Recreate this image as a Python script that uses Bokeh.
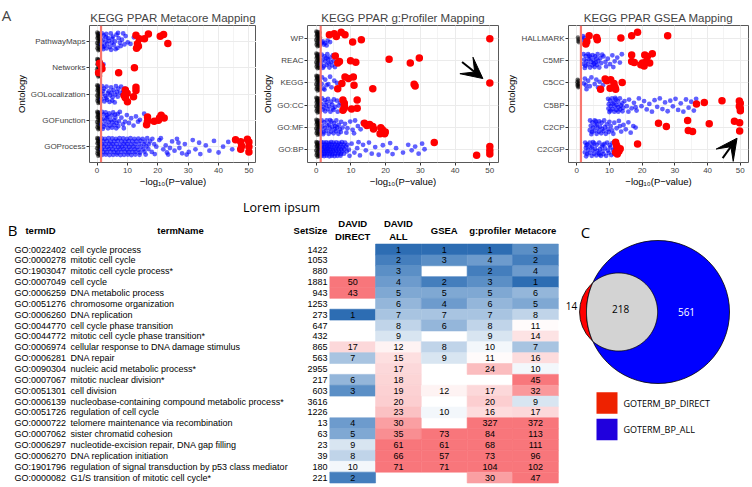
import math
import numpy as np
from bokeh.plotting import figure
from bokeh.models import (Range1d, Span, FixedTicker, SingleIntervalTicker,
                          Arrow, VeeHead, ColumnDataSource, LinearColorMapper)
from bokeh.layouts import row, column
from bokeh.embed import file_html
from bokeh.resources import INLINE
from bokeh.core.properties import value
from bokeh.transform import transform

FONT = "Liberation Sans"
THRESH = 0.05  # p-value threshold line

# ---------------- Panel A data: (-log10 p, vertical jitter in rows; + = lower) -------------
BLK_DENSE = [(0.05, -0.33), (0.55, -0.31), (1.0, -0.27), (0.3, -0.22), (0.8, -0.19), (0.1, -0.13),
             (0.6, -0.1), (1.1, -0.06), (0.35, -0.02), (0.85, 0.02), (0.0, 0.06), (0.5, 0.1),
             (1.05, 0.13), (0.25, 0.17), (0.75, 0.21), (0.1, 0.26), (0.6, 0.29), (1.0, 0.32),
             (0.4, 0.34), (0.2, -0.28), (0.9, -0.02), (0.45, -0.16)]

META_CATS = ["GOProcess", "GOFunction", "GOLocalization", "Networks", "PathwayMaps"]
META_BLACK = {c: BLK_DENSE for c in META_CATS}
META_BLUE = {
    "PathwayMaps": [(1.6, -0.3), (2.2, -0.22), (3.0, -0.28), (3.6, -0.12), (4.5, -0.3), (5.2, -0.18),
                    (6.4, -0.25), (7.1, -0.12), (8.6, -0.3), (9.4, -0.2), (1.8, -0.05), (2.7, 0.02),
                    (3.9, -0.02), (4.8, 0.06), (5.9, 0.0), (7.5, 0.05), (8.2, -0.06), (10.1, 0.04),
                    (1.5, 0.12), (2.4, 0.18), (3.3, 0.1), (4.2, 0.22), (5.5, 0.14), (6.7, 0.25),
                    (7.8, 0.18), (9.0, 0.12), (2.0, 0.3), (3.1, 0.27), (4.6, 0.32), (6.1, 0.3),
                    (2.9, -0.15), (1.9, 0.22), (5.0, -0.1), (12.1, -0.15), (11.0, 0.1), (6.9, -0.32)],
    "Networks": [(1.6, 0.06), (2.1, -0.12)],
    "GOLocalization": [(1.6, -0.3), (2.3, -0.2), (3.1, -0.28), (3.8, -0.1), (4.6, -0.25), (5.4, -0.15),
                       (6.2, -0.3), (7.0, -0.2), (7.9, -0.28), (8.6, -0.12), (1.8, 0.0), (2.7, 0.08),
                       (3.5, -0.02), (4.3, 0.05), (5.1, 0.12), (6.0, 0.02), (6.8, 0.1), (7.6, -0.04),
                       (1.5, 0.2), (2.4, 0.28), (3.3, 0.22), (4.1, 0.3), (5.0, 0.25), (5.8, 0.32),
                       (2.0, -0.12), (3.0, 0.15), (8.3, 0.04), (9.1, -0.2), (4.8, -0.05), (6.5, -0.08)],
    "GOFunction": [(1.6, -0.32), (2.1, -0.22), (2.8, -0.3), (3.4, -0.12), (4.0, -0.26), (4.7, -0.18),
                   (5.3, -0.3), (6.0, -0.1), (6.8, -0.24), (7.5, -0.32), (1.8, -0.05), (2.5, 0.02),
                   (3.1, -0.08), (3.8, 0.06), (4.4, -0.02), (5.0, 0.08), (5.7, 0.0), (6.4, 0.1),
                   (7.2, 0.04), (8.0, -0.1), (1.5, 0.15), (2.2, 0.24), (2.9, 0.16), (3.6, 0.3),
                   (4.2, 0.2), (4.9, 0.28), (5.6, 0.18), (6.3, 0.3), (7.0, 0.22), (8.5, 0.15),
                   (9.2, 0.05), (9.8, -0.2), (10.5, 0.1), (11.2, -0.08), (12.0, 0.2), (12.8, -0.15),
                   (13.5, 0.05), (14.1, -0.02), (15.5, -0.25), (8.8, 0.3), (1.9, 0.32), (3.2, -0.2),
                   (5.9, -0.22)],
    "GOProcess": [(1.5, -0.31), (2.6, -0.3), (3.8, -0.32), (5.0, -0.31), (6.2, -0.3), (7.4, -0.32),
                  (8.6, -0.31), (9.8, -0.3), (11.0, -0.32), (12.3, -0.3), (13.6, -0.31), (15.0, -0.3),
                  (16.5, -0.32), (18.2, -0.3),
                  (2.0, -0.2), (3.2, -0.21), (4.4, -0.19), (5.6, -0.2), (6.8, -0.22), (8.0, -0.2),
                  (9.2, -0.19), (10.4, -0.21), (11.6, -0.2), (12.9, -0.2), (14.3, -0.22), (15.8, -0.19),
                  (17.4, -0.2),
                  (1.6, -0.1), (2.8, -0.09), (4.0, -0.11), (5.2, -0.1), (6.4, -0.1), (7.6, -0.08),
                  (8.8, -0.11), (10.0, -0.1), (11.2, -0.09), (12.5, -0.1), (13.9, -0.11), (15.4, -0.1),
                  (17.0, -0.09), (18.8, -0.1),
                  (2.2, 0.0), (3.4, 0.01), (4.6, -0.01), (5.8, 0.0), (7.0, 0.02), (8.2, 0.0),
                  (9.4, -0.01), (10.6, 0.01), (11.9, 0.0), (13.2, 0.02), (14.6, 0.0), (16.2, -0.01),
                  (19.5, 0.0),
                  (1.5, 0.1), (2.7, 0.11), (3.9, 0.09), (5.1, 0.1), (6.3, 0.12), (7.5, 0.1),
                  (8.7, 0.09), (9.9, 0.11), (11.1, 0.1), (12.4, 0.1), (13.7, 0.12), (15.2, 0.1),
                  (16.9, 0.09),
                  (1.9, 0.2), (3.1, 0.21), (4.3, 0.19), (5.5, 0.2), (6.7, 0.22), (7.9, 0.2),
                  (9.1, 0.19), (10.3, 0.21), (11.5, 0.2), (12.7, 0.2), (14.1, 0.22), (15.6, 0.19),
                  (18.0, 0.2),
                  (1.7, 0.31), (2.9, 0.3), (4.1, 0.32), (5.3, 0.31), (6.5, 0.3), (7.7, 0.32),
                  (8.9, 0.31), (10.1, 0.3), (11.3, 0.32), (12.6, 0.3), (14.0, 0.31), (16.0, 0.3),
                  (20.5, -0.25), (21.8, 0.1), (22.6, -0.05), (23.4, 0.3), (24.7, -0.2), (25.5, 0.15),
                  (26.3, -0.3), (27.1, 0.05), (28.0, 0.25), (28.9, -0.1), (30.2, 0.2), (31.5, -0.25),
                  (32.4, 0.1), (33.6, -0.15), (34.0, 0.28), (35.8, -0.05), (37.0, 0.15), (38.5, -0.22),
                  (40.0, 0.22), (41.5, 0.0), (43.2, -0.18), (44.5, 0.1), (19.0, 0.28), (21.0, -0.32),
                  (24.0, 0.05), (29.5, 0.3), (26.8, -0.15), (23.0, 0.22)],
}
META_RED = {
    "PathwayMaps": [(12.8, -0.23), (13.9, -0.1), (15.6, -0.1), (16.9, -0.28), (20.8, -0.19),
                    (21.9, -0.26), (23.3, 0.08), (13.3, 0.09), (13.0, 0.26), (13.6, 0.19)],
    "Networks": [(0.8, -0.17), (1.4, -0.06), (1.6, 0.04), (0.5, 0.19), (7.1, 0.19), (12.3, 0.0)],
    "GOLocalization": [(9.3, -0.15), (9.9, -0.03), (12.8, -0.26), (12.8, -0.13), (8.9, 0.06),
                       (9.3, 0.14), (10.0, 0.29), (12.0, 0.1)],
    "GOFunction": [(16.6, -0.13), (16.6, 0.03), (16.3, 0.17), (18.8, 0.03), (20.2, 0.0),
                   (21.1, -0.19), (20.6, -0.1), (22.1, -0.09)],
    "GOProcess": [(45.6, -0.26), (47.3, -0.19), (49.5, -0.28), (50.0, -0.18), (47.6, -0.03),
                  (50.0, 0.0), (50.0, 0.2), (47.3, 0.1)],
}

GPROF_CATS = ["GO:BP", "GO:MF", "GO:CC", "KEGG", "REAC", "WP"]
GPROF_BLACK = {c: BLK_DENSE for c in GPROF_CATS}
GPROF_BLUE = {
    "WP": [(1.9, 0.12), (2.6, 0.2), (3.3, 0.08), (2.2, 0.26), (3.0, 0.3), (1.6, 0.18), (4.0, 0.15)],
    "REAC": [(1.6, -0.28), (2.4, -0.2), (3.2, -0.3), (4.0, -0.15), (4.8, -0.25), (1.8, -0.05),
             (2.6, 0.02), (3.4, -0.08), (4.2, 0.06), (5.0, 0.0), (1.5, 0.15), (2.2, 0.25),
             (3.0, 0.18), (3.8, 0.3), (4.6, 0.2), (5.4, 0.28), (2.9, -0.12), (1.9, 0.32), (3.6, 0.1)],
    "KEGG": [(1.7, -0.25), (2.6, -0.15), (3.5, 0.05), (4.4, 0.2), (5.2, -0.1), (2.1, 0.25),
             (3.0, 0.1), (1.6, 0.05), (2.4, 0.3), (6.0, 0.0), (4.0, -0.28)],
    "GO:CC": [(1.7, -0.3), (2.5, -0.22), (3.4, -0.28), (4.2, -0.15), (5.1, -0.25), (6.0, -0.2),
              (1.6, -0.05), (2.8, 0.0), (3.7, 0.06), (4.6, -0.02), (5.5, 0.08), (6.5, 0.02),
              (1.9, 0.2), (2.6, 0.28), (3.3, 0.18), (4.1, 0.3), (5.0, 0.22), (6.2, 0.3),
              (7.0, -0.1), (3.0, -0.12), (4.8, 0.15), (2.2, 0.1)],
    "GO:MF": [(1.6, -0.3), (2.3, -0.22), (3.0, -0.31), (3.7, -0.12), (4.4, -0.26), (5.1, -0.18),
              (5.8, -0.3), (6.5, -0.1), (7.2, -0.24), (1.8, -0.04), (2.5, 0.03), (3.2, -0.08),
              (3.9, 0.06), (4.6, -0.01), (5.3, 0.09), (6.0, 0.0), (6.8, 0.1), (7.6, 0.02),
              (1.5, 0.15), (2.2, 0.24), (2.9, 0.16), (3.6, 0.3), (4.3, 0.2), (5.0, 0.28),
              (5.7, 0.18), (6.4, 0.3), (7.1, 0.22), (8.3, -0.15), (9.0, 0.05), (9.8, -0.25),
              (10.5, 0.12), (11.2, -0.3), (12.0, -0.05), (12.8, 0.1), (13.4, -0.2), (8.7, 0.25),
              (10.9, 0.28), (2.0, 0.32), (4.0, -0.32), (5.5, -0.05)],
    "GO:BP": [(1.5, -0.32), (2.2, -0.3), (2.9, -0.31), (3.6, -0.29), (4.3, -0.32), (5.0, -0.3),
              (5.8, -0.31), (6.6, -0.29), (7.4, -0.32), (8.3, -0.3), (1.8, -0.2), (2.5, -0.21),
              (3.2, -0.19), (3.9, -0.22), (4.6, -0.2), (5.4, -0.21), (6.2, -0.19), (7.0, -0.22),
              (7.9, -0.2), (9.0, -0.2), (1.6, -0.1), (2.3, -0.09), (3.0, -0.11), (3.7, -0.1),
              (4.4, -0.08), (5.1, -0.1), (5.9, -0.11), (6.7, -0.09), (7.6, -0.1), (8.6, -0.11),
              (1.9, 0.0), (2.6, 0.01), (3.3, -0.01), (4.0, 0.0), (4.8, 0.02), (5.6, 0.0),
              (6.4, -0.01), (7.2, 0.01), (8.1, 0.0), (9.4, 0.02), (1.5, 0.1), (2.2, 0.11),
              (2.9, 0.09), (3.6, 0.1), (4.3, 0.12), (5.0, 0.1), (5.8, 0.09), (6.6, 0.11),
              (7.5, 0.1), (8.8, 0.1), (1.8, 0.2), (2.5, 0.21), (3.2, 0.19), (3.9, 0.2),
              (4.7, 0.22), (5.5, 0.2), (6.3, 0.19), (7.1, 0.21), (8.0, 0.2), (1.6, 0.3),
              (2.3, 0.31), (3.0, 0.29), (3.8, 0.32), (4.5, 0.3), (5.3, 0.31), (6.1, 0.3),
              (7.0, 0.29), (10.2, -0.25), (11.0, 0.15), (11.8, -0.05), (12.6, 0.28), (13.5, -0.2),
              (14.3, 0.05), (15.2, -0.3), (16.0, 0.2), (17.0, -0.1), (18.0, 0.25), (19.2, -0.18),
              (20.5, 0.1), (21.3, -0.28), (22.0, 0.22), (23.0, -0.05), (25.0, 0.15), (26.5, -0.2),
              (27.5, 0.05), (28.5, -0.12), (29.5, 0.2), (30.5, -0.25), (31.2, 0.0), (9.6, 0.3),
              (12.2, -0.32)],
}
GPROF_RED = {
    "WP": [(3.8, -0.18), (5.2, -0.23), (5.8, -0.1), (7.2, -0.3), (8.3, -0.18), (10.5, 0.15),
           (13.0, 0.05), (50.0, 0.0)],
    "REAC": [(5.5, -0.22), (6.2, 0.1), (6.7, 0.03), (9.9, -0.01), (11.4, 0.06), (21.0, -0.07),
             (27.1, 0.1), (29.7, -0.13)],
    "KEGG": [(8.3, -0.27), (9.3, -0.2), (10.7, -0.27), (7.4, 0.03), (6.2, 0.26), (10.9, 0.1),
             (16.3, 0.26), (28.2, 0.06), (28.5, 0.14), (50.0, 0.0)],
    "GO:CC": [(7.7, -0.23), (8.1, -0.08), (8.1, 0.04), (8.1, 0.15), (11.8, -0.23), (11.8, 0.15),
              (10.2, 0.18), (7.7, 0.23)],
    "GO:MF": [(13.9, -0.18), (14.6, -0.08), (16.3, -0.03), (15.4, -0.12), (16.5, 0.08),
              (18.6, 0.03), (19.1, 0.12), (18.4, 0.3), (19.9, 0.22), (19.7, 0.3)],
    "GO:BP": [(34.0, -0.3), (50.0, -0.12), (50.0, 0.06), (50.0, 0.22), (46.2, 0.27)],
}

GSEA_CATS = ["C2CGP", "C2CP", "C5BP", "C5CC", "C5MF", "HALLMARK"]
GSEA_BLACK = {
    "HALLMARK": [(0.6, 0.02), (0.5, 0.1), (0.7, 0.16), (0.4, -0.06)],
    "C5CC": [(0.3, -0.15), (0.6, -0.1), (0.2, -0.03), (0.7, 0.02), (0.4, 0.06), (0.25, 0.12),
             (0.65, 0.15), (0.5, 0.2)],
}
GSEA_BLUE = {
    "HALLMARK": [(1.9, -0.12), (2.3, -0.04), (2.0, 0.06)],
    "C5MF": [(2.1, -0.3), (2.8, -0.22), (3.5, -0.3), (4.2, -0.14), (4.9, -0.26), (5.6, -0.2),
             (6.4, -0.3), (7.2, -0.12), (2.3, -0.06), (3.0, 0.02), (3.7, -0.08), (4.4, 0.05),
             (5.1, -0.02), (5.8, 0.08), (6.6, 0.0), (7.5, 0.1), (2.0, 0.14), (2.7, 0.22),
             (3.4, 0.16), (4.1, 0.3), (4.8, 0.2), (5.5, 0.28), (6.2, 0.18), (6.9, 0.3),
             (2.5, 0.32), (3.9, -0.24), (5.3, 0.12), (8.2, -0.2), (8.8, 0.05), (9.5, -0.1),
             (10.2, 0.15), (10.9, -0.25), (11.6, 0.02), (12.4, -0.15), (13.2, 0.08), (13.8, -0.3),
             (9.0, 0.25), (11.2, 0.28), (7.8, -0.28), (6.0, -0.1)],
    "C5CC": [(2.5, -0.2), (3.5, -0.1), (4.5, -0.25), (6.0, -0.15), (7.0, -0.05), (2.8, 0.1),
             (4.0, 0.15), (5.5, 0.05), (3.0, 0.28), (6.5, 0.2), (8.0, 0.1), (9.0, -0.2), (2.2, 0.02)],
    "C5BP": [(9.6, -0.28), (10.2, -0.2), (10.8, -0.3), (11.4, -0.12), (12.0, -0.25), (12.6, -0.16),
             (13.2, -0.3), (13.9, -0.08), (9.8, -0.04), (10.4, 0.04), (11.0, -0.06), (11.6, 0.06),
             (12.2, 0.0), (12.8, 0.1), (13.5, 0.02), (14.2, 0.12), (9.7, 0.16), (10.3, 0.25),
             (10.9, 0.18), (11.5, 0.3), (12.1, 0.22), (12.7, 0.3), (13.3, 0.2), (14.0, 0.28),
             (10.0, 0.32), (11.8, -0.32), (14.6, -0.18), (15.3, 0.05), (16.0, -0.25), (16.8, 0.15),
             (17.5, -0.1), (18.3, 0.25), (19.0, -0.3), (19.8, 0.05), (20.6, -0.18), (21.4, 0.2),
             (22.2, -0.05), (23.0, 0.3), (23.8, -0.22), (24.6, 0.08), (25.4, -0.3), (26.2, 0.18),
             (27.0, -0.12), (27.8, 0.28), (28.6, -0.2), (29.4, 0.06), (30.2, -0.28), (31.0, 0.22),
             (31.8, -0.08), (32.6, 0.3), (33.4, -0.25), (34.2, 0.12), (35.0, -0.15), (35.8, 0.25),
             (36.5, -0.28), (15.8, 0.3), (18.0, 0.1)],
    "C2CP": [(4.1, -0.3), (4.8, -0.22), (5.5, -0.3), (6.2, -0.14), (6.9, -0.26), (7.6, -0.2),
             (8.4, -0.3), (9.2, -0.12), (10.0, -0.24), (4.3, -0.06), (5.0, 0.02), (5.7, -0.08),
             (6.4, 0.05), (7.1, -0.02), (7.8, 0.08), (8.6, 0.0), (9.5, 0.1), (10.4, -0.04),
             (4.0, 0.14), (4.7, 0.22), (5.4, 0.16), (6.1, 0.3), (6.8, 0.2), (7.5, 0.28),
             (8.2, 0.18), (8.9, 0.3), (9.8, 0.22), (4.5, 0.32), (10.8, 0.15), (11.5, -0.2),
             (12.2, 0.05), (12.9, -0.28), (13.6, 0.2), (14.3, -0.1), (15.0, 0.1), (15.8, -0.22),
             (16.5, 0.25), (17.3, -0.05), (18.0, 0.02), (11.2, 0.3), (13.2, -0.05), (5.9, -0.26)],
    "C2CGP": [(2.6, -0.3), (3.3, -0.22), (4.0, -0.3), (4.7, -0.14), (5.4, -0.26), (6.1, -0.2),
              (6.9, -0.3), (7.7, -0.12), (8.5, -0.24), (9.3, -0.3), (10.1, -0.18), (10.9, -0.28),
              (2.8, -0.06), (3.5, 0.02), (4.2, -0.08), (4.9, 0.05), (5.6, -0.02), (6.3, 0.08),
              (7.1, 0.0), (7.9, 0.1), (8.7, -0.04), (9.5, 0.06), (10.3, -0.08), (11.1, 0.04),
              (2.5, 0.14), (3.2, 0.22), (3.9, 0.16), (4.6, 0.3), (5.3, 0.2), (6.0, 0.28),
              (6.7, 0.18), (7.4, 0.3), (8.2, 0.22), (9.0, 0.3), (9.8, 0.16), (10.6, 0.26),
              (11.4, 0.2), (12.0, -0.22), (11.7, 0.0), (2.9, 0.32), (3.0, -0.18), (5.0, -0.32),
              (7.0, 0.24), (8.0, -0.2)],
}
GSEA_RED = {
    "HALLMARK": [(3.8, -0.14), (3.1, 0.12), (2.8, 0.24), (6.1, -0.06), (6.3, 0.05), (13.5, -0.03),
                 (16.8, -0.14), (18.6, -0.29), (27.8, -0.14)],
    "C5MF": [(16.8, -0.27), (16.8, 0.03), (17.6, 0.08), (20.8, -0.27), (21.6, -0.2), (23.1, -0.32),
             (19.6, 0.18), (20.1, 0.1), (20.6, 0.23), (21.3, 0.03), (22.3, 0.1)],
    "C5CC": [(8.7, -0.18), (9.2, -0.1), (10.4, -0.14), (11.4, 0.02), (13.9, -0.02), (7.3, 0.29),
             (10.2, 0.24), (11.7, 0.2), (11.9, 0.29)],
    "C5BP": [(36.6, -0.05), (39.0, -0.11), (44.4, -0.2), (49.7, -0.18), (50.0, -0.08),
             (49.7, 0.05), (50.0, 0.15), (50.0, 0.26)],
    "C2CP": [(25.0, -0.18), (27.4, -0.03), (33.9, -0.3), (34.1, 0.15), (35.4, 0.2), (40.5, -0.15),
             (48.2, -0.27), (49.8, -0.2), (49.8, 0.18)],
    "C2CGP": [(11.9, -0.32), (12.2, -0.17), (12.4, -0.09), (12.7, 0.03), (12.9, 0.09),
              (13.3, -0.02), (12.4, 0.21), (18.6, -0.24), (11.9, 0.14)],
}

# ---------------- Panel B data ----------------
TERM_IDS = ["GO:0022402", "GO:0000278", "GO:1903047", "GO:0007049", "GO:0006259", "GO:0051276",
            "GO:0006260", "GO:0044770", "GO:0044772", "GO:0006974", "GO:0006281", "GO:0090304",
            "GO:0007067", "GO:0051301", "GO:0006139", "GO:0051726", "GO:0000722", "GO:0007062",
            "GO:0006297", "GO:0006270", "GO:1901796", "GO:0000082"]
TERM_NAMES = ["cell cycle process", "mitotic cell cycle", "mitotic cell cycle process*", "cell cycle",
              "DNA metabolic process", "chromosome organization", "DNA replication",
              "cell cycle phase transition", "mitotic cell cycle phase transition*",
              "cellular response to DNA damage stimulus", "DNA repair",
              "nucleic acid metabolic process*", "mitotic nuclear division*", "cell division",
              "nucleobase-containing compound metabolic process*", "regulation of cell cycle",
              "telomere maintenance via recombination", "sister chromatid cohesion",
              "nucleotide-excision repair, DNA gap filling", "DNA replication initiation",
              "regulation of signal transduction by p53 class mediator",
              "G1/S transition of mitotic cell cycle*"]
SET_SIZE = [1422, 1053, 880, 1881, 943, 1253, 273, 647, 432, 865, 563, 2955, 217, 603, 3616, 1226,
            13, 63, 23, 39, 180, 221]
DAVID_DIRECT = [None, None, None, 50, 43, None, 1, None, None, 17, 7, None, 6, 3, None, None,
                4, 5, 9, 8, 10, 2]
DAVID_ALL = [1, 2, 3, 4, 5, 6, 7, 8, 9, 12, 15, 17, 18, 19, 20, 23, 30, 35, 61, 66, 71, None]
GSEA_RANK = [1, 3, None, 2, 5, 4, 7, 6, None, 8, 9, None, None, 12, None, 10, None, 73, 61, 57,
             71, None]
GPROF_RANK = [1, 4, 2, 3, 5, 6, 7, 8, 9, 10, 11, 24, None, 17, 20, 16, 327, 84, 68, 73, 104, 30]
METACORE_RANK = [3, 2, 4, 1, 6, 5, 8, 11, 14, 7, 16, 10, 45, 32, 9, 17, 372, 113, 111, 96, 102, 47]
RANK_COLS = [("DAVID", "DIRECT", DAVID_DIRECT), ("DAVID", "ALL", DAVID_ALL), ("", "GSEA", GSEA_RANK),
             ("", "g:profiler", GPROF_RANK), ("", "Metacore", METACORE_RANK)]

# ---------------- Panel C data ----------------
N_DIRECT_ONLY, N_BOTH, N_ALL_ONLY = 14, 218, 561
VENN_NAMES = ["GOTERM_BP_DIRECT", "GOTERM_BP_ALL"]

H1 = 195          # height of the top row
H2 = 487 - H1     # height of the bottom row
TOP, FRAME_H = 25, 137


def blank(width, height, x0, y0):
    """figure whose data units are picture pixels (y downwards)"""
    p = figure(width=width, height=height, x_range=Range1d(x0, x0 + width),
               y_range=Range1d(y0 + height, y0), output_backend="svg", toolbar_location=None,
               min_border=0, x_axis_location=None, y_axis_location=None)
    p.outline_line_color = None
    p.grid.visible = False
    p.background_fill_color = "white"
    p.border_fill_color = "white"
    return p


# ======================= Panel A =======================
def scatter_panel(title, cats, black, blue, red, width, left, right, arrow=None, title_offset=0):
    n = len(cats)
    p = figure(width=width, height=H1, x_range=Range1d(-2.5, 52.5), y_range=Range1d(0.4, n + 0.6),
               output_backend="svg", toolbar_location=None, title=title,
               min_border_left=left, min_border_right=right, min_border_top=TOP,
               min_border_bottom=H1 - TOP - FRAME_H)
    p.background_fill_color = "white"
    p.border_fill_color = "white"
    p.outline_line_color = "#595959"
    p.outline_line_width = 1
    for pts, color, alpha, size in ((black, "#000000", 0.55, 4.5), (blue, "#0000FF", 0.62, 4.8),
                                    (red, "#FF0000", 1.0, 7.5)):
        xs, ys = [], []
        for k, cat in enumerate(cats, start=1):
            for x, dy in pts.get(cat, []):
                xs.append(x)
                ys.append(k - dy)
        p.scatter(xs, ys, size=size, fill_color=color, fill_alpha=alpha, line_color=None)
    p.add_layout(Span(location=-math.log10(THRESH), dimension="height", line_color="#F8766D",
                      line_width=2.2))
    p.xaxis.ticker = SingleIntervalTicker(interval=10, num_minor_ticks=2)
    p.yaxis.ticker = FixedTicker(ticks=list(range(1, n + 1)))
    p.yaxis.major_label_overrides = {k: c for k, c in enumerate(cats, start=1)}
    p.xaxis.axis_label = "−log₁₀(P−value)"
    p.yaxis.axis_label = "Ontology"
    for ax in (p.xaxis[0], p.yaxis[0]):
        ax.axis_line_color = None
        ax.major_tick_line_color = "#333333"
        ax.major_tick_out = 3
        ax.major_tick_in = 0
        ax.minor_tick_line_color = None
        ax.major_label_text_font = FONT
        ax.major_label_text_font_size = "8px"
        ax.major_label_text_color = "#444444"
        ax.major_label_standoff = 1
        ax.axis_label_text_font = FONT
        ax.axis_label_text_font_size = "9.5px"
        ax.axis_label_text_font_style = "normal"
        ax.axis_label_text_color = "black"
        ax.axis_label_standoff = 1
    p.xaxis[0].major_label_standoff = 1
    p.xaxis[0].axis_label_standoff = 0
    p.xgrid.grid_line_color = "#EBEBEB"
    p.xgrid.minor_grid_line_color = "#F4F4F4"
    p.ygrid.grid_line_color = "#EBEBEB"
    p.title.text_font = FONT
    p.title.text_font_size = "11.5px"
    p.title.text_font_style = "normal"
    p.title.align = "center"
    p.title.offset = title_offset
    p.title.standoff = 4
    if arrow:
        (x0, y0), (x1, y1) = arrow
        p.add_layout(Arrow(end=VeeHead(size=21, fill_color="black", line_color="black"),
                           x_start=x0, y_start=y0, x_end=x1, y_end=y1,
                           line_color="black", line_width=2))
    return p


# narrow strip carrying the panel letter "A" as its title
strip = figure(width=12, height=H1, title="A", output_backend="svg", toolbar_location=None,
               min_border_left=0, min_border_right=0, min_border_top=TOP,
               min_border_bottom=H1 - TOP - FRAME_H, x_axis_location=None, y_axis_location=None)
strip.outline_line_color = None
strip.grid.visible = False
strip.title.text_font = "Open Sans"
strip.title.text_font_size = "15px"
strip.title.text_font_style = "normal"
strip.title.align = "center"
strip.title.standoff = 2

f1 = scatter_panel("KEGG PPAR Metacore Mapping", META_CATS, META_BLACK, META_BLUE, META_RED,
                   244, 76, 0, title_offset=-9)
f2 = scatter_panel("KEGG PPAR g:Profiler Mapping", GPROF_CATS, GPROF_BLACK, GPROF_BLUE, GPROF_RED,
                   244, 51, 2, arrow=((42.0, 4.95), (48.0, 4.2)))
f3 = scatter_panel("KEGG PPAR GSEA Mapping", GSEA_CATS, GSEA_BLACK, GSEA_BLUE, GSEA_RED,
                   252, 68, 4, arrow=((44.6, 0.6), (49.0, 1.5)))

# ======================= Panel B =======================
TAB_W = 560
ROW0, ROW_H = 249.0, 10.86   # picture y of first row, row pitch
tab = figure(width=TAB_W, height=H2, x_range=Range1d(0, TAB_W),
             y_range=Range1d((H1 + H2 - ROW0) / ROW_H, (H1 - ROW0) / ROW_H),
             output_backend="svg", toolbar_location=None, min_border=0,
             x_axis_location=None, y_axis_location=None)
tab.outline_line_color = None
tab.grid.visible = False
tab.background_fill_color = "white"
tab.border_fill_color = "white"

X_ID, X_NAME, X_SIZE = 14, 70, 327
COL_X = [352.2, 397.9, 443.7, 489.5, 535.0]
CELL_W = 45.7
rows_idx = list(range(len(TERM_IDS)))

TXT = dict(text_font=value(FONT), text_font_size="9px", text_color="black", text_baseline="middle")
tab.text(x=[X_ID] * len(rows_idx), y=rows_idx, text=TERM_IDS, text_align="left", **TXT)
tab.text(x=[X_NAME] * len(rows_idx), y=rows_idx, text=TERM_NAMES, text_align="left", **TXT)
tab.text(x=[X_SIZE] * len(rows_idx), y=rows_idx, text=[str(s) for s in SET_SIZE],
         text_align="right", **TXT)

# diverging palette (blue = top rank, white ~10, salmon = low rank)
ANCHORS = [(1, "#2C6CB3"), (3, "#5A8EC6"), (5, "#7EA7D3"), (7, "#A7C3E1"), (9, "#D7E4F1"),
           (10.5, "#FFFFFF"), (14, "#FDE3E4"), (20, "#FCCED0"), (24, "#FBBDBF"), (30, "#FA9FA2"),
           (35, "#F98E92"), (43, "#F8777C")]
LOW, HIGH, STEP = 1.0, 46.0, 0.1


def _rgb(h):
    return [int(h[i:i + 2], 16) for i in (1, 3, 5)]


palette = []
for i in range(int(round((HIGH - LOW) / STEP))):
    v = LOW + (i + 0.5) * STEP
    for (v0, c0), (v1, c1) in zip(ANCHORS[:-1], ANCHORS[1:]):
        if v <= v1 or (v1, c1) == ANCHORS[-1]:
            t = min(max((v - v0) / (v1 - v0), 0.0), 1.0)
            a, b = _rgb(c0), _rgb(c1)
            palette.append("#%02x%02x%02x" % tuple(int(round(a[j] + (b[j] - a[j]) * t)) for j in range(3)))
            break
mapper = LinearColorMapper(palette=palette, low=LOW, high=HIGH, high_color="#F8767B",
                           low_color="#2C6CB3")

cx, cy, cv = [], [], []
for j, (_, _, vals) in enumerate(RANK_COLS):
    for i, v in enumerate(vals):
        if v is not None:
            cx.append(COL_X[j])
            cy.append(i)
            cv.append(v)
hsrc = ColumnDataSource(dict(x=cx, y=cy, v=cv, t=[str(v) for v in cv]))
tab.rect(x="x", y="y", width=CELL_W, height=1.0, source=hsrc,
         fill_color=transform("v", mapper), line_color=transform("v", mapper), line_width=0.6)
tab.text(x="x", y="y", text="t", source=hsrc, text_align="center", **TXT)

HDR = dict(text_font=value(FONT), text_font_size="9.5px", text_font_style="bold",
           text_color="black", text_baseline="middle", text_align="center")
Y_HDR, Y_HDR1, Y_HDR2, Y_TITLE = -1.75, -2.4, -1.2, -3.87
tab.text(x=[40, 180, 310], y=[Y_HDR] * 3, text=["termID", "termName", "SetSize"], **HDR)
for j, (l1, l2, _) in enumerate(RANK_COLS):
    if l1:
        tab.text(x=[COL_X[j]], y=[Y_HDR1], text=[l1], **HDR)
        tab.text(x=[COL_X[j]], y=[Y_HDR2], text=[l2], **HDR)
    else:
        tab.text(x=[COL_X[j]], y=[Y_HDR], text=[l2], **HDR)
tab.text(x=[281], y=[Y_TITLE], text=["Lorem ipsum"], text_font=value("Open Sans"),
         text_font_size="12.5px", text_align="center", text_baseline="middle")
tab.text(x=[12], y=[Y_HDR], text=["B"], text_font=value("Open Sans"), text_font_size="15px",
         text_align="center", text_baseline="middle")

# ======================= Panel C =======================
venn = blank(752 - TAB_W, H2, TAB_W, H1)

R_ALL = 71.5
BX, BY = 657.5, 311.5
n_all = N_BOTH + N_ALL_ONLY
n_dir = N_DIRECT_ONLY + N_BOTH
r_dir = R_ALL * math.sqrt(n_dir / n_all)
target = N_BOTH / n_all * math.pi * R_ALL ** 2


def lens_area(d, r1, r2):
    a1 = r1 ** 2 * math.acos(max(-1, min(1, (d * d + r1 * r1 - r2 * r2) / (2 * d * r1))))
    a2 = r2 ** 2 * math.acos(max(-1, min(1, (d * d + r2 * r2 - r1 * r1) / (2 * d * r2))))
    k = (-d + r1 + r2) * (d + r1 - r2) * (d - r1 + r2) * (d + r1 + r2)
    return a1 + a2 - 0.5 * math.sqrt(max(k, 0))


lo, hi = R_ALL - r_dir + 1e-6, R_ALL + r_dir
for _ in range(80):
    mid = 0.5 * (lo + hi)
    if lens_area(mid, R_ALL, r_dir) > target:
        lo = mid
    else:
        hi = mid
dist = 0.5 * (lo + hi)
RX, RY = BX - dist, BY

# lens polygon (intersection of the two circles)
xi = (r_dir ** 2 - R_ALL ** 2 + dist ** 2) / (2 * dist)  # relative to red centre
yi = math.sqrt(max(r_dir ** 2 - xi ** 2, 0))
th = math.atan2(yi, xi)
ph = math.atan2(yi, xi - dist)
t1 = np.linspace(-th, th, 200)
t2 = np.linspace(ph, 2 * math.pi - ph, 60)
lx = np.concatenate([RX + r_dir * np.cos(t1), BX + R_ALL * np.cos(t2)])
ly = np.concatenate([RY + r_dir * np.sin(t1), BY + R_ALL * np.sin(t2)])

venn.circle(x=[RX], y=[RY], radius=r_dir, fill_color="#FF0000", line_color="black", line_width=0.8)
venn.circle(x=[BX], y=[BY], radius=R_ALL, fill_color="#0000FF", line_color="black", line_width=0.8)
venn.patch(lx, ly, fill_color="#D3D3D3", line_color="black", line_width=0.8)

VT = dict(text_font=value("Open Sans"), text_font_size="10px", text_baseline="middle",
          text_align="center")
venn.text(x=[RX - r_dir - 8], y=[BY - 6], text=[str(N_DIRECT_ONLY)], text_color="black", **VT)
venn.text(x=[RX + 2], y=[BY - 3], text=[str(N_BOTH)], text_color="black", **VT)
venn.text(x=[686], y=[BY], text=[str(N_ALL_ONLY)], text_color="white", **VT)

venn.rect(x=[606.5, 606.5], y=[402.5, 429.0], width=21, height=21.5,
          fill_color=["#EE2200", "#2000DD"], line_color=None)
venn.text(x=[623, 623], y=[402.5, 429], text=VENN_NAMES, text_font=value("Open Sans"),
          text_font_size="9px", text_align="left", text_baseline="middle", text_color="black")
venn.text(x=[585], y=[231], text=["C"], text_font=value("Open Sans"), text_font_size="15px",
          text_align="center", text_baseline="middle")

layout = column(row(strip, f1, f2, f3), row(tab, venn))
open("out.html", "w").write(file_html(layout, INLINE))
